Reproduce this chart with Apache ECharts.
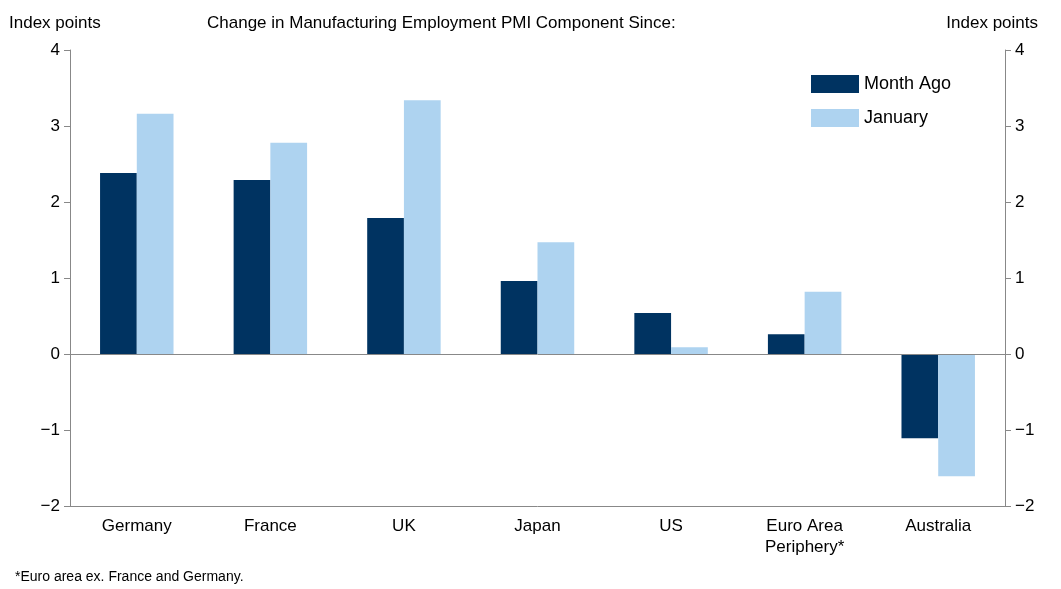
<!DOCTYPE html>
<html><head><meta charset="utf-8">
<script src="https://cdn.jsdelivr.net/npm/echarts@6/dist/echarts.min.js"></script>
<style>body{margin:0;background:#fff}#c{width:1061px;height:589px}</style>
</head><body><div id="c"></div>
<script>
var categories = ['Germany', 'France', 'UK', 'Japan', 'US', 'Euro Area\nPeriphery*', 'Australia'];
var monthAgo = [2.38, 2.29, 1.79, 0.96, 0.54, 0.26, -1.11];
var january = [3.16, 2.78, 3.34, 1.47, 0.09, 0.82, -1.61];

var chart = echarts.init(document.getElementById('c'));
var font = 'Liberation Sans, Arial, sans-serif';
function valAxis(pos) {
    return {
        type: 'value', position: pos, min: -2, max: 4, interval: 1,
        axisLine: {show: true, lineStyle: {color: '#888'}},
        axisTick: {show: true, inside: false, length: 6, lineStyle: {color: '#888'}},
        splitLine: {show: false},
        axisLabel: {color: '#000', fontSize: 17, fontFamily: font, margin: 10,
            formatter: function (v) { return v < 0 ? '\u2212' + (-v) : v; }}
    };
}
chart.setOption({
    animation: false,
    grid: {left: 70, right: 56, top: 50, bottom: 83, containLabel: false, outerBoundsMode: 'none'},
    title: [
        {text: 'Index points', left: 4, top: 10, textStyle: {fontSize: 17, fontWeight: 'normal', color: '#000', fontFamily: font}},
        {text: 'Change in Manufacturing Employment PMI Component Since:', left: 202, top: 10, textStyle: {fontSize: 17, fontWeight: 'normal', color: '#000', fontFamily: font}},
        {text: 'Index points', right: 18, top: 10, textStyle: {fontSize: 17, fontWeight: 'normal', color: '#000', fontFamily: font}},
        {text: '*Euro area ex. France and Germany.', left: 10, top: 565, textStyle: {fontSize: 14, fontWeight: 'normal', color: '#000', fontFamily: font}}
    ],
    legend: {
        orient: 'vertical', left: 806, top: 70, itemWidth: 48, itemHeight: 18, itemGap: 16, icon: 'rect',
        textStyle: {fontSize: 18, color: '#000', fontFamily: font},
        data: ['Month Ago', 'January']
    },
    xAxis: {
        type: 'category', data: categories,
        axisLine: {onZero: false, lineStyle: {color: '#888'}},
        axisTick: {show: false},
        axisLabel: {color: '#000', fontSize: 17, fontFamily: font, interval: 0, margin: 10, lineHeight: 21}
    },
    yAxis: [valAxis('left'), valAxis('right')],
    series: [
        {name: 'Month Ago', type: 'bar', data: monthAgo, itemStyle: {color: '#003361'}, barGap: 0, barCategoryGap: '45%',
            markLine: {silent: true, symbol: 'none', label: {show: false}, lineStyle: {color: '#888', type: 'solid', width: 1}, data: [{yAxis: 0}]}},
        {name: 'January', type: 'bar', data: january, itemStyle: {color: '#aed3f0'}}
    ]
});
</script></body></html>
